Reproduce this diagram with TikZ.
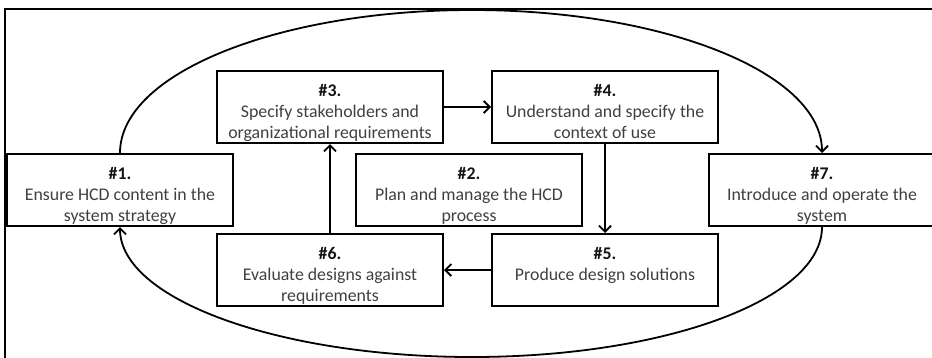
\documentclass[tikz,border=0pt]{standalone}
\usepackage{fontspec}
\setmainfont{Carlito}
\usetikzlibrary{arrows.meta}
\definecolor{bodytext}{RGB}{64,64,64}
\definecolor{headtext}{RGB}{20,20,20}
\tikzset{
  hcdbox/.style={draw=black, line width=2pt, fill=white, inner sep=0pt,
    minimum width=226pt, minimum height=72pt},
  flow/.style={line width=1.8pt,
    -{Straight Barb[length=6pt,width=12pt,line width=1.8pt]}},
  frameline/.style={line width=1.5pt, draw=black}
}
% Box text: bold step number on top, description below, top-aligned
\newcommand{\hcdtext}[2]{\parbox[c][72pt][t]{222pt}{\centering
  \fontsize{17.8}{21}\selectfont
  \rule{0pt}{25pt}{\bfseries\color{headtext}\##1.}\\
  {\color{bodytext}#2}}}
\begin{document}
\begin{tikzpicture}[x=1pt,y=-1pt]
  \useasboundingbox (0,0) rectangle (932,357);
  \clip (0,0) rectangle (932,357);
  % outer frame
  \draw[frameline] (5,380) -- (5,9) -- (950,9);

  % process steps
  \node[hcdbox] (s1) at (120,190) {\hcdtext{1}{Ensure HCD content in the\\system strategy}};
  \node[hcdbox] (s3) at (330,107) {\hcdtext{3}{Specify stakeholders and\\organizational requirements}};
  \node[hcdbox] (s4) at (605,107) {\hcdtext{4}{Understand and specify the\\context of use}};
  \node[hcdbox] (s2) at (469,190) {\hcdtext{2}{Plan and manage the HCD\\process}};
  \node[hcdbox] (s6) at (330,270) {\hcdtext{6}{Evaluate designs against\\requirements}};
  \node[hcdbox] (s5) at (605,270) {\hcdtext{5}{Produce design solutions}};
  \node[hcdbox] (s7) at (822,190) {\hcdtext{7}{Introduce and operate the\\system}};

  % inner design loop
  \draw[flow] (s3.east) -- (s4.west);
  \draw[flow] (s4.south) -- (s5.north);
  \draw[flow] (s5.west) -- (s6.east);
  \draw[flow] (s6.north) -- (s3.south);

  % outer loop
  \coordinate (top) at (472,10);
  \coordinate (bottom) at (472,357);
  \draw[flow] (s1.north) .. controls +(0,-80) and +(-193,0) .. (top)
                         .. controls +(193,0) and +(0,-80) .. (s7.north);
  \draw[flow] (s7.south) .. controls +(0,72) and +(194,0) .. (bottom)
                         .. controls +(-194,0) and +(0,72) .. (s1.south);
\end{tikzpicture}
\end{document}
